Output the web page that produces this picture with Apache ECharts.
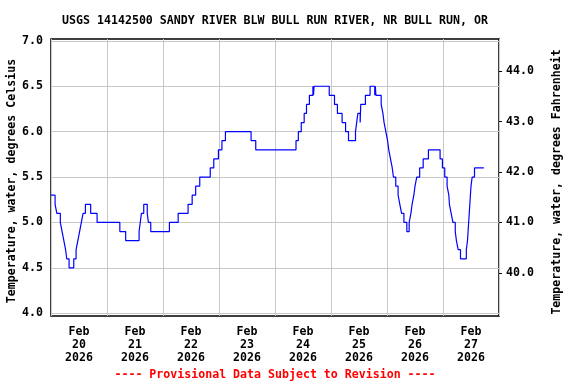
<!DOCTYPE html>
<html>
<head>
<meta charset="utf-8">
<script src="https://cdn.jsdelivr.net/npm/echarts@6/dist/echarts.min.js"></script>
<style>
  html, body { margin: 0; padding: 0; background: #ffffff; }
  #chart { width: 576px; height: 384px; }
</style>
</head>
<body>
<div id="chart"></div>
<script>
// ---- Data ----
var chartTitle = 'USGS 14142500 SANDY RIVER BLW BULL RUN RIVER, NR BULL RUN, OR';
var footerText = '---- Provisional Data Subject to Revision ----';
var leftAxisTitle = 'Temperature, water, degrees Celsius';
var rightAxisTitle = 'Temperature, water, degrees Fahrenheit';
// Day labels (centred at noon of each day)
var dayLabels = ['Feb\n20\n2026', 'Feb\n21\n2026', 'Feb\n22\n2026', 'Feb\n23\n2026',
                 'Feb\n24\n2026', 'Feb\n25\n2026', 'Feb\n26\n2026', 'Feb\n27\n2026'];
var celsiusTicks = [4.0, 4.5, 5.0, 5.5, 6.0, 6.5, 7.0];
var fahrenheitTicks = [40, 41, 42, 43, 44];
// Time (hours since 2026-02-20 00:00) at which the water temperature changes to the value
var hoursSinceStart = [0, 1.75, 2.5, 4.0, 4.75, 5.5, 6.25, 6.75, 7.75, 9.75, 10.75, 11.5, 12.25, 13.0, 13.75, 14.75,
  17.0, 19.75, 29.5, 32.0, 37.75, 38.25, 38.75, 39.75, 41.25, 41.75, 42.75, 50.75, 54.5, 58.75, 60.5, 62.0,
  63.75, 68.25, 69.75, 71.75, 73.25, 74.75, 85.75, 87.75, 105.0, 106.0, 107.25, 108.5, 109.5, 110.75, 112.25,
  112.5, 112.75, 119.25, 121.5, 122.75, 124.75, 126.25, 127.5, 130.5, 131.0, 131.5, 132.5, 132.75, 134.75,
  136.75, 138.75, 139.0, 139.25, 141.5, 142.25, 142.75, 143.5, 144.25, 144.75, 145.5, 146.25, 146.75, 147.75,
  148.75, 149.5, 150.25, 151.25, 152.5, 153.5, 154.25, 154.75, 155.5, 156.0, 156.75, 158.0, 159.5, 161.75,
  166.75, 167.75, 168.75, 169.75, 170.5, 170.75, 171.5, 172.25, 173.25, 173.75, 174.5, 175.5, 178.0, 178.5,
  178.75, 179.0, 179.25, 179.5, 179.75, 180.0, 180.5, 181.5, 185.5];
var tempC = [5.3, 5.2, 5.1, 5.0, 4.9, 4.8, 4.7, 4.6, 4.5, 4.6, 4.7, 4.8, 4.9, 5.0, 5.1, 5.2,
  5.1, 5.0, 4.9, 4.8, 4.9, 5.0, 5.1, 5.2, 5.1, 5.0, 4.9, 5.0, 5.1, 5.2, 5.3, 5.4,
  5.5, 5.6, 5.7, 5.8, 5.9, 6.0, 5.9, 5.8, 5.9, 6.0, 6.1, 6.2, 6.3, 6.4, 6.5,
  6.4, 6.5, 6.4, 6.3, 6.2, 6.1, 6.0, 5.9, 6.0, 6.1, 6.2, 6.1, 6.3, 6.4,
  6.5, 6.4, 6.5, 6.4, 6.3, 6.2, 6.1, 6.0, 5.9, 5.8, 5.7, 5.6, 5.5, 5.4,
  5.3, 5.2, 5.1, 5.0, 4.9, 5.0, 5.1, 5.2, 5.3, 5.4, 5.5, 5.6, 5.7, 5.8,
  5.7, 5.6, 5.5, 5.4, 5.3, 5.2, 5.1, 5.0, 4.9, 4.8, 4.7, 4.6, 4.7, 4.8,
  4.9, 5.0, 5.1, 5.2, 5.3, 5.4, 5.5, 5.6, 5.6];

// ---- Chart ----
var cMin = 3.97, cMax = 7.02;
var toF = function (c) { return c * 1.8 + 32; };
var FONT = "'DejaVu Sans Mono', monospace";

var seriesData = hoursSinceStart.map(function (h, i) { return [h, tempC[i]]; });

var chart = echarts.init(document.getElementById('chart'), null, { renderer: 'canvas' });
chart.setOption({
  animation: false,
  backgroundColor: '#ffffff',
  graphic: [
    { type: 'text', x: 275, y: 21,
      style: { text: chartTitle, fontFamily: FONT, fontSize: 11.6, fontWeight: 'bold', fill: '#000',
               textAlign: 'center', textVerticalAlign: 'middle' } },
    { type: 'text', x: 275, y: 375,
      style: { text: footerText, fontFamily: FONT, fontSize: 11.6, fontWeight: 'bold', fill: '#ff0000',
               textAlign: 'center', textVerticalAlign: 'middle' } },
    { type: 'text', x: 12, y: 181, rotation: Math.PI / 2,
      style: { text: leftAxisTitle, fontFamily: FONT, fontSize: 11.6, fontWeight: 'bold', fill: '#000',
               textAlign: 'center', textVerticalAlign: 'middle' } },
    { type: 'text', x: 557, y: 182, rotation: Math.PI / 2,
      style: { text: rightAxisTitle, fontFamily: FONT, fontSize: 11.6, fontWeight: 'bold', fill: '#000',
               textAlign: 'center', textVerticalAlign: 'middle' } }
  ],
  grid: { left: 51, right: 77, top: 39, bottom: 68, show: true, borderColor: '#000', borderWidth: 1.5,
          backgroundColor: 'transparent' },
  xAxis: [
    { type: 'value', min: 0, max: 192, interval: 24,
      axisLine: { show: false }, axisTick: { show: false }, axisLabel: { show: false },
      splitLine: { show: true, lineStyle: { color: '#c8c8c8', width: 1 } } },
    { type: 'category', data: dayLabels, position: 'bottom', boundaryGap: true,
      axisLine: { show: false }, axisTick: { show: false }, splitLine: { show: false },
      axisLabel: { fontFamily: FONT, fontSize: 11.6, fontWeight: 'bold', color: '#000', lineHeight: 13, margin: 9 } }
  ],
  yAxis: [
    { type: 'value', min: cMin, max: cMax, position: 'left',
      axisLine: { show: false },
      axisTick: { show: false, customValues: celsiusTicks },
      axisLabel: { customValues: celsiusTicks, fontFamily: FONT, fontSize: 11.6, fontWeight: 'bold', color: '#000',
                   margin: 8, formatter: function (v) { return v.toFixed(1); } },
      splitLine: { show: true, lineStyle: { color: '#c8c8c8', width: 1 } } },
    { type: 'value', min: toF(cMin), max: toF(cMax), position: 'right',
      axisLine: { show: false },
      axisTick: { show: true, inside: false, length: 3, customValues: fahrenheitTicks, lineStyle: { color: '#000' } },
      axisLabel: { customValues: fahrenheitTicks, fontFamily: FONT, fontSize: 11.6, fontWeight: 'bold', color: '#000',
                   margin: 7, formatter: function (v) { return v.toFixed(1); } },
      splitLine: { show: false } }
  ],
  series: [
    { type: 'line', xAxisIndex: 0, yAxisIndex: 0, data: seriesData, step: 'end',
      showSymbol: false, symbol: 'none', lineStyle: { color: '#0000ff', width: 1.2 }, z: 3 }
  ]
});
</script>
</body>
</html>
